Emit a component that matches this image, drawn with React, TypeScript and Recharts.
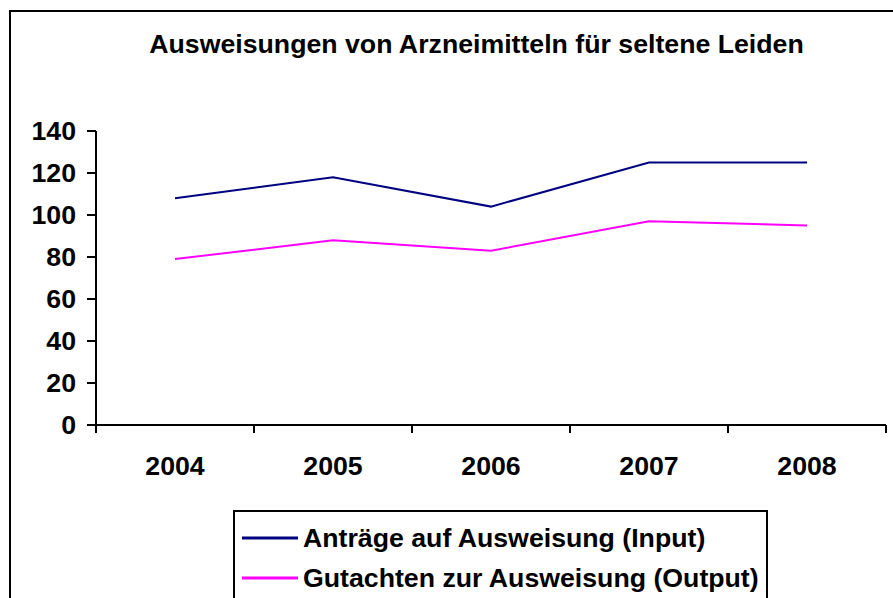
import { LineChart, Line, XAxis, YAxis, Legend } from "recharts";

const YEARS = ["2004", "2005", "2006", "2007", "2008"];
const INPUT = [108, 118, 104, 125, 125];
const OUTPUT = [79, 88, 83, 97, 95];
const Y_TICKS = [0, 20, 40, 60, 80, 100, 120, 140];
const TITLE = "Ausweisungen von Arzneimitteln für seltene Leiden";
const INPUT_NAME = "Anträge auf Ausweisung (Input)";
const OUTPUT_NAME = "Gutachten zur Ausweisung (Output)";

const FONT = "Arial, 'Liberation Sans', sans-serif";
const FS = 26.7;

// year i sits in the middle of slot [i, i+1]
const data = YEARS.map((year, i) => ({
  year,
  pos: i + 0.5,
  input: INPUT[i],
  output: OUTPUT[i],
}));

const BOUNDS = YEARS.map((_, i) => i).concat(YEARS.length);
const CENTERS = YEARS.map((_, i) => i + 0.5);

const axisStroke = { stroke: "#000", strokeWidth: 2 };
const tickStyle = { fill: "#000", fontSize: FS, fontWeight: 700, fontFamily: FONT };

const LegendBox = ({ payload }: any) => (
  <div
    style={{
      width: 535,
      height: 100,
      border: "2px solid #000",
      background: "#fff",
      boxSizing: "border-box",
      paddingTop: 6,
      fontFamily: FONT,
      fontWeight: 700,
      fontSize: FS,
      color: "#000",
    }}
  >
    {(payload || []).map((p: any) => (
      <div key={p.value} style={{ display: "flex", alignItems: "center", height: 40 }}>
        <svg width={68} height={10} style={{ flexShrink: 0 }}>
          <line x1={7} x2={63} y1={5} y2={5} stroke={p.color} strokeWidth={3} />
        </svg>
        <span style={{ lineHeight: "40px", whiteSpace: "nowrap" }}>{p.value}</span>
      </div>
    ))}
  </div>
);

export default function App() {
  return (
    <div
      style={{
        position: "absolute",
        left: 0,
        top: 0,
        width: 893,
        height: 598,
        overflow: "hidden",
        background: "#fff",
      }}
    >
      <div
        style={{
          position: "absolute",
          left: 9,
          top: 10,
          width: 950,
          height: 650,
          border: "2px solid #000",
        }}
      />
      <svg width={893} height={80} style={{ position: "absolute", left: 0, top: 0 }}>
        <text
          x={476.5}
          y={53}
          textAnchor="middle"
          fontFamily={FONT}
          fontSize={FS}
          fontWeight={700}
          fill="#000"
        >
          {TITLE}
        </text>
      </svg>
      <div style={{ position: "absolute", left: 0, top: 0 }}>
        <LineChart
          width={893}
          height={598}
          data={data}
          margin={{ top: 131, right: 7, bottom: 132, left: 0 }}
        >
          <XAxis
            xAxisId={0}
            type="number"
            dataKey="pos"
            domain={[0, YEARS.length]}
            ticks={BOUNDS}
            allowDataOverflow
            height={1}
            tickSize={8}
            tickFormatter={() => ""}
            axisLine={axisStroke}
            tickLine={axisStroke}
          />
          <XAxis
            xAxisId={1}
            type="number"
            dataKey="pos"
            domain={[0, YEARS.length]}
            ticks={CENTERS}
            allowDataOverflow
            height={40}
            tickSize={0}
            tickMargin={30}
            axisLine={false}
            tickLine={false}
            interval={0}
            tick={tickStyle}
            tickFormatter={(v: number) => YEARS[Math.floor(v)]}
          />
          <YAxis
            type="number"
            domain={[0, 140]}
            ticks={Y_TICKS}
            width={96}
            tickSize={9}
            tickMargin={11}
            interval={0}
            axisLine={axisStroke}
            tickLine={axisStroke}
            tick={tickStyle}
          />
          <Line
            xAxisId={0}
            type="linear"
            dataKey="input"
            name={INPUT_NAME}
            stroke="#000080"
            strokeWidth={2}
            dot={false}
            isAnimationActive={false}
          />
          <Line
            xAxisId={0}
            type="linear"
            dataKey="output"
            name={OUTPUT_NAME}
            stroke="#FF00FF"
            strokeWidth={2}
            dot={false}
            isAnimationActive={false}
          />
          <Legend
            layout="vertical"
            align="center"
            verticalAlign="middle"
            content={<LegendBox />}
            wrapperStyle={{ left: 233, top: 510, width: 535, height: 100 }}
          />
        </LineChart>
      </div>
    </div>
  );
}
